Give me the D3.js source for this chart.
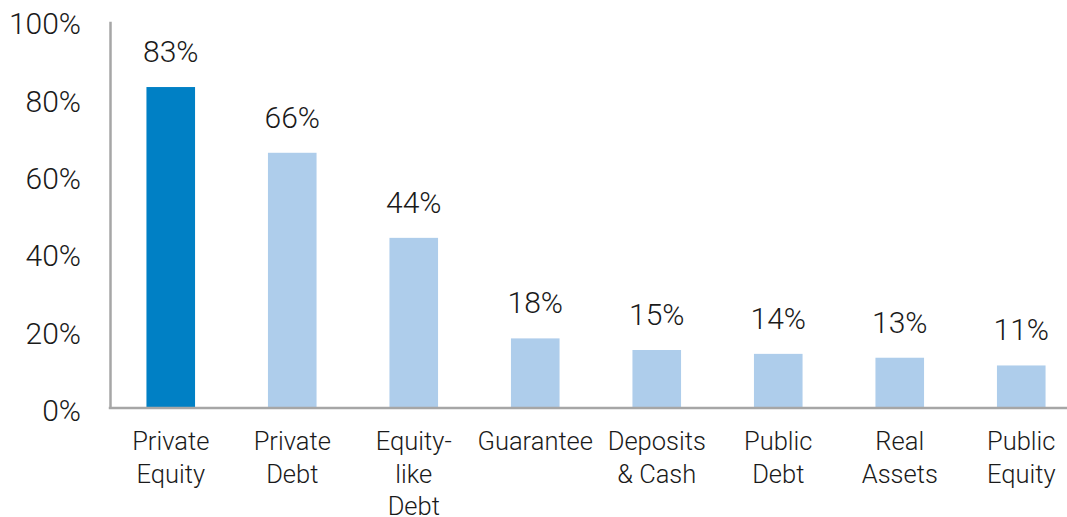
<!DOCTYPE html>
<html><head><meta charset="utf-8">
<script src="https://cdn.jsdelivr.net/npm/d3@7"></script>
<style>
html,body{margin:0;padding:0;background:#fff;}
text{font-family:"Roboto","Liberation Sans",sans-serif;font-weight:300;fill:#1a1a1a;}
</style></head><body>
<svg id="chart" width="1067" height="517"></svg>
<script>
const categories = [["Private","Equity"],["Private","Debt"],["Equity-","like","Debt"],["Guarantee"],["Deposits","& Cash"],["Public","Debt"],["Real","Assets"],["Public","Equity"]];
const values = [83, 66, 44, 18, 15, 14, 13, 11];
const highlight = [true, false, false, false, false, false, false, false];
const yTicks = [0, 20, 40, 60, 80, 100];

const svg = d3.select("#chart");
const x0 = 110, x1 = 1082, yBase = 408, yTop = 21.3;
const keys = categories.map((c,i)=>i);
const x = d3.scaleBand().domain(keys).range([x0, x1]).paddingInner(0.6).paddingOuter(0.3);
const y = d3.scaleLinear().domain([0, 100]).range([yBase, yTop]);

// bars
svg.append("g").selectAll("rect").data(values).join("rect")
  .attr("x", (d,i)=>x(i)).attr("width", x.bandwidth())
  .attr("y", d=>y(d)).attr("height", d=>yBase - y(d))
  .attr("fill", (d,i)=>highlight[i] ? "#0080c5" : "#aecdeb");

// value labels
svg.append("g").selectAll("text").data(values).join("text")
  .attr("x", (d,i)=>x(i)+x.bandwidth()/2).attr("y", d=>y(d)-25)
  .attr("text-anchor","middle").style("font-size","30px")
  .text(d=>d+"%");

// y axis
const yAxis = svg.append("g").attr("transform",`translate(${x0},0)`)
  .call(d3.axisLeft(y).tickValues(yTicks).tickSize(0).tickPadding(29).tickFormat(d=>d+"%"));
yAxis.select(".domain").attr("stroke","#a6a6a6").attr("stroke-width",2.5);
yAxis.selectAll("text").style("font-size","30px").attr("dy","0.42em")
  .style("font-family",'"Roboto","Liberation Sans",sans-serif').style("font-weight","300").style("fill","#1a1a1a");

// x axis
const xAxis = svg.append("g").attr("transform",`translate(0,${yBase})`)
  .call(d3.axisBottom(x).tickSize(0).tickSizeOuter(0).tickFormat(()=>""));
xAxis.select(".domain").attr("stroke","#a6a6a6").attr("stroke-width",2.5)
  .attr("d", `M${x0-1.25},0H1067`);
xAxis.selectAll(".tick text").remove();

// category labels
const cl = svg.append("g").selectAll("text").data(categories).join("text")
  .attr("text-anchor","middle").style("font-size","25.5px")
  .attr("transform",(d,i)=>`translate(${x(i)+x.bandwidth()/2},450)`);
cl.selectAll("tspan").data(d=>d).join("tspan")
  .attr("x",0).attr("y",(d,j)=>j*32.5).text(d=>d);
</script>
</body></html>
